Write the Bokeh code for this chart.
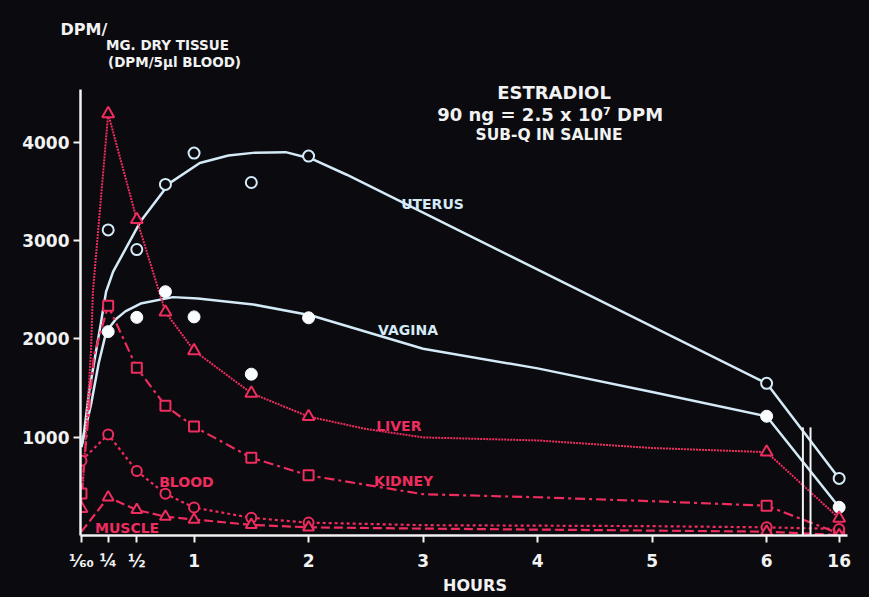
from bokeh.plotting import figure
from bokeh.models import Label, FixedTicker, Range1d, Title
from bokeh.embed import file_html
from bokeh.resources import INLINE

# ---------------- data (time in minutes after injection) ----------------
TICK_MIN = [1, 15, 30, 60, 120, 180, 240, 300, 360, 960]
TICK_LABELS = ["¹⁄₆₀", "¼", "½", "1", "2", "3", "4", "5", "6", "16"]
Y_TICKS = [1000, 2000, 3000, 4000]

# measured points (markers)
SAMPLE_MIN = [15, 30, 45, 60, 90, 120, 360, 960]
UTERUS = [3109, 2909, 3572, 3890, 3591, 3860, 1548, 581]
VAGINA = [2074, 2219, 2480, 2224, 1641, 2215, 1213, 287]

RED_MIN = [1, 15, 30, 45, 60, 90, 120, 360, 960]
LIVER = [274, 4290, 3214, 2273, 1880, 1448, 1210, 848, 175]
KIDNEY = [427, 2338, 1706, 1319, 1108, 791, 612, 303, 20]
BLOOD = [761, 1028, 655, 424, 284, 180, 131, 83, 66]
MUSCLE = [388, 260, 192, 163, 108, 83, 39, 5]   # at SAMPLE_MIN

# hand-drawn curves
UTERUS_FIT_MIN = [1, 2.4, 5, 11.3, 13.9, 17.6, 32, 47, 63, 78, 92, 108, 122, 140, 360, 960]
UTERUS_FIT = [900, 1056, 1462, 2176, 2480, 2684, 3196, 3582, 3790, 3865, 3895, 3900, 3830, 3670, 1548, 581]
VAGINA_FIT_MIN = [1, 3, 6, 10, 14, 19, 24, 32, 49, 62, 91, 121, 180, 240, 300, 360, 960]
VAGINA_FIT = [900, 1080, 1330, 1750, 2074, 2200, 2280, 2360, 2425, 2410, 2350, 2240, 1900, 1700, 1460, 1213, 287]
LIVER_FIT_MIN = [1, 6, 7, 15, 30, 45, 60, 90, 120, 150, 180, 240, 300, 360, 960]
LIVER_FIT = [274, 1880, 2480, 4290, 3214, 2273, 1880, 1448, 1210, 1084, 998, 967, 890, 848, 175]
KIDNEY_FIT_MIN = [1, 7.5, 15, 30, 45, 60, 90, 120, 180, 240, 300, 360, 960]
KIDNEY_FIT = [427, 1830, 2338, 1706, 1319, 1108, 791, 612, 420, 389, 349, 303, 20]
BLOOD_FIT_MIN = [1, 15, 30, 45, 60, 90, 120, 180, 240, 300, 360, 960]
BLOOD_FIT = [761, 1028, 655, 424, 284, 180, 131, 105, 100, 95, 83, 66]
MUSCLE_FIT_MIN = [1, 15, 30, 45, 60, 90, 120, 180, 240, 300, 360, 960]
MUSCLE_FIT = [40, 388, 260, 192, 163, 108, 83, 70, 60, 50, 39, 5]

# ---------------- styling ----------------
BG = "#0a0a0f"
BLUE = "#d4eaf7"
RED = "#ee2d5e"
WHITE = "#f2f2f2"
FONT = "DejaVu Sans"
BREAK_POS = 398          # where the "16 h" column sits after the axis break
BREAK_MARKS = [379, 383]


def xpos(t):
    return [v if v <= 360 else BREAK_POS for v in t]


p = figure(width=869, height=597, output_backend="svg", toolbar_location=None,
           x_range=Range1d(0.5, 413.9), y_range=Range1d(0, 5056),
           min_border_left=80, min_border_right=0, min_border_top=38,
           min_border_bottom=61, background_fill_color=BG, border_fill_color=None,
           outline_line_color=None)
p.styles = {"background-color": BG}
p.grid.visible = False

# upper-left unit title
p.add_layout(Title(text="DPM/", align="left", offset=-20, standoff=0,
                   vertical_align="bottom", text_color=WHITE, text_font=FONT,
                   text_font_style="bold", text_font_size="16px"), "above")

xa = p.xaxis[0]
xa.ticker = FixedTicker(ticks=xpos(TICK_MIN))
xa.major_label_overrides = {k: v for k, v in zip(xpos(TICK_MIN), TICK_LABELS)}
xa.bounds = (0.5, 402.5)
xa.axis_label = "HOURS"
xa.axis_label_standoff = 2
xa.axis_label_text_color = WHITE
xa.axis_label_text_font = FONT
xa.axis_label_text_font_style = "bold"
xa.axis_label_text_font_size = "16px"
ya = p.yaxis[0]
ya.ticker = FixedTicker(ticks=Y_TICKS)
ya.bounds = (0, 4540)
for ax in (xa, ya):
    ax.axis_line_color = WHITE
    ax.axis_line_width = 2.5
    ax.major_tick_line_color = WHITE
    ax.major_tick_line_width = 2
    ax.major_tick_out = 7
    ax.major_tick_in = 0
    ax.minor_tick_line_color = None
    ax.major_label_text_color = WHITE
    ax.major_label_text_font = FONT
    ax.major_label_text_font_style = "bold"
    ax.major_label_text_font_size = "17px"
    ax.major_label_standoff = 4
xa.major_label_standoff = 8

# curves
p.line(xpos(UTERUS_FIT_MIN), UTERUS_FIT, line_color=BLUE, line_width=2.5)
p.line(xpos(VAGINA_FIT_MIN), VAGINA_FIT, line_color=BLUE, line_width=2.5)
p.line(xpos(LIVER_FIT_MIN), LIVER_FIT, line_color=RED, line_width=2, line_dash="2 1")
p.line(xpos(KIDNEY_FIT_MIN), KIDNEY_FIT, line_color=RED, line_width=2.2, line_dash="10 4 3 4")
p.line(xpos(BLOOD_FIT_MIN), BLOOD_FIT, line_color=RED, line_width=2.2, line_dash="3 3")
p.line(xpos(MUSCLE_FIT_MIN), MUSCLE_FIT, line_color=RED, line_width=2.2, line_dash="9 4")

# break marks
p.segment(x0=BREAK_MARKS, y0=[0, 0], x1=BREAK_MARKS, y1=[1100, 1100],
          line_color=WHITE, line_width=2)

# markers
p.scatter(xpos(SAMPLE_MIN), UTERUS, marker="circle", size=11, fill_color=BG,
          line_color=BLUE, line_width=2)
p.scatter(xpos(SAMPLE_MIN), VAGINA, marker="circle", size=12, fill_color="#f8fcff",
          line_color="#f8fcff", line_width=1)
p.scatter(xpos(RED_MIN), LIVER, marker="triangle", size=12, fill_color=BG,
          line_color=RED, line_width=2)
p.scatter(xpos(RED_MIN), KIDNEY, marker="square", size=10, fill_color=BG,
          line_color=RED, line_width=2)
p.scatter(xpos(RED_MIN), BLOOD, marker="circle", size=10, fill_color=BG,
          line_color=RED, line_width=2)
p.scatter(xpos(SAMPLE_MIN), MUSCLE, marker="triangle", size=11, fill_color=BG,
          line_color=RED, line_width=2)


def lab(x, y, text, color=WHITE, size="14px", align="left"):
    p.add_layout(Label(x=x, y=y, text=text, text_color=color, text_font=FONT,
                       text_font_style="bold", text_font_size=size,
                       text_align=align, text_baseline="middle"))


lab(13.9, 4985, "MG. DRY TISSUE", size="13.5px")
lab(14.9, 4822, "(DPM/5µl BLOOD)", size="13.5px")

# title
lab(248.6, 4508, "ESTRADIOL", size="18px", align="center")
lab(246.6, 4284, "90 ng = 2.5 x 10⁷ DPM", size="18px", align="center")
lab(246.0, 4071, "SUB-Q IN SALINE", size="15.5px", align="center")

# series labels
lab(168.5, 3371, "UTERUS", color=BLUE)
lab(156.4, 2091, "VAGINA", color=BLUE)
lab(155.4, 1117, "LIVER", color=RED)
lab(154.3, 558, "KIDNEY", color=RED)
lab(41.7, 548, "BLOOD", color=RED)
lab(8.1, 81, "MUSCLE", color=RED)

open("out.html", "w").write(file_html(p, INLINE))
